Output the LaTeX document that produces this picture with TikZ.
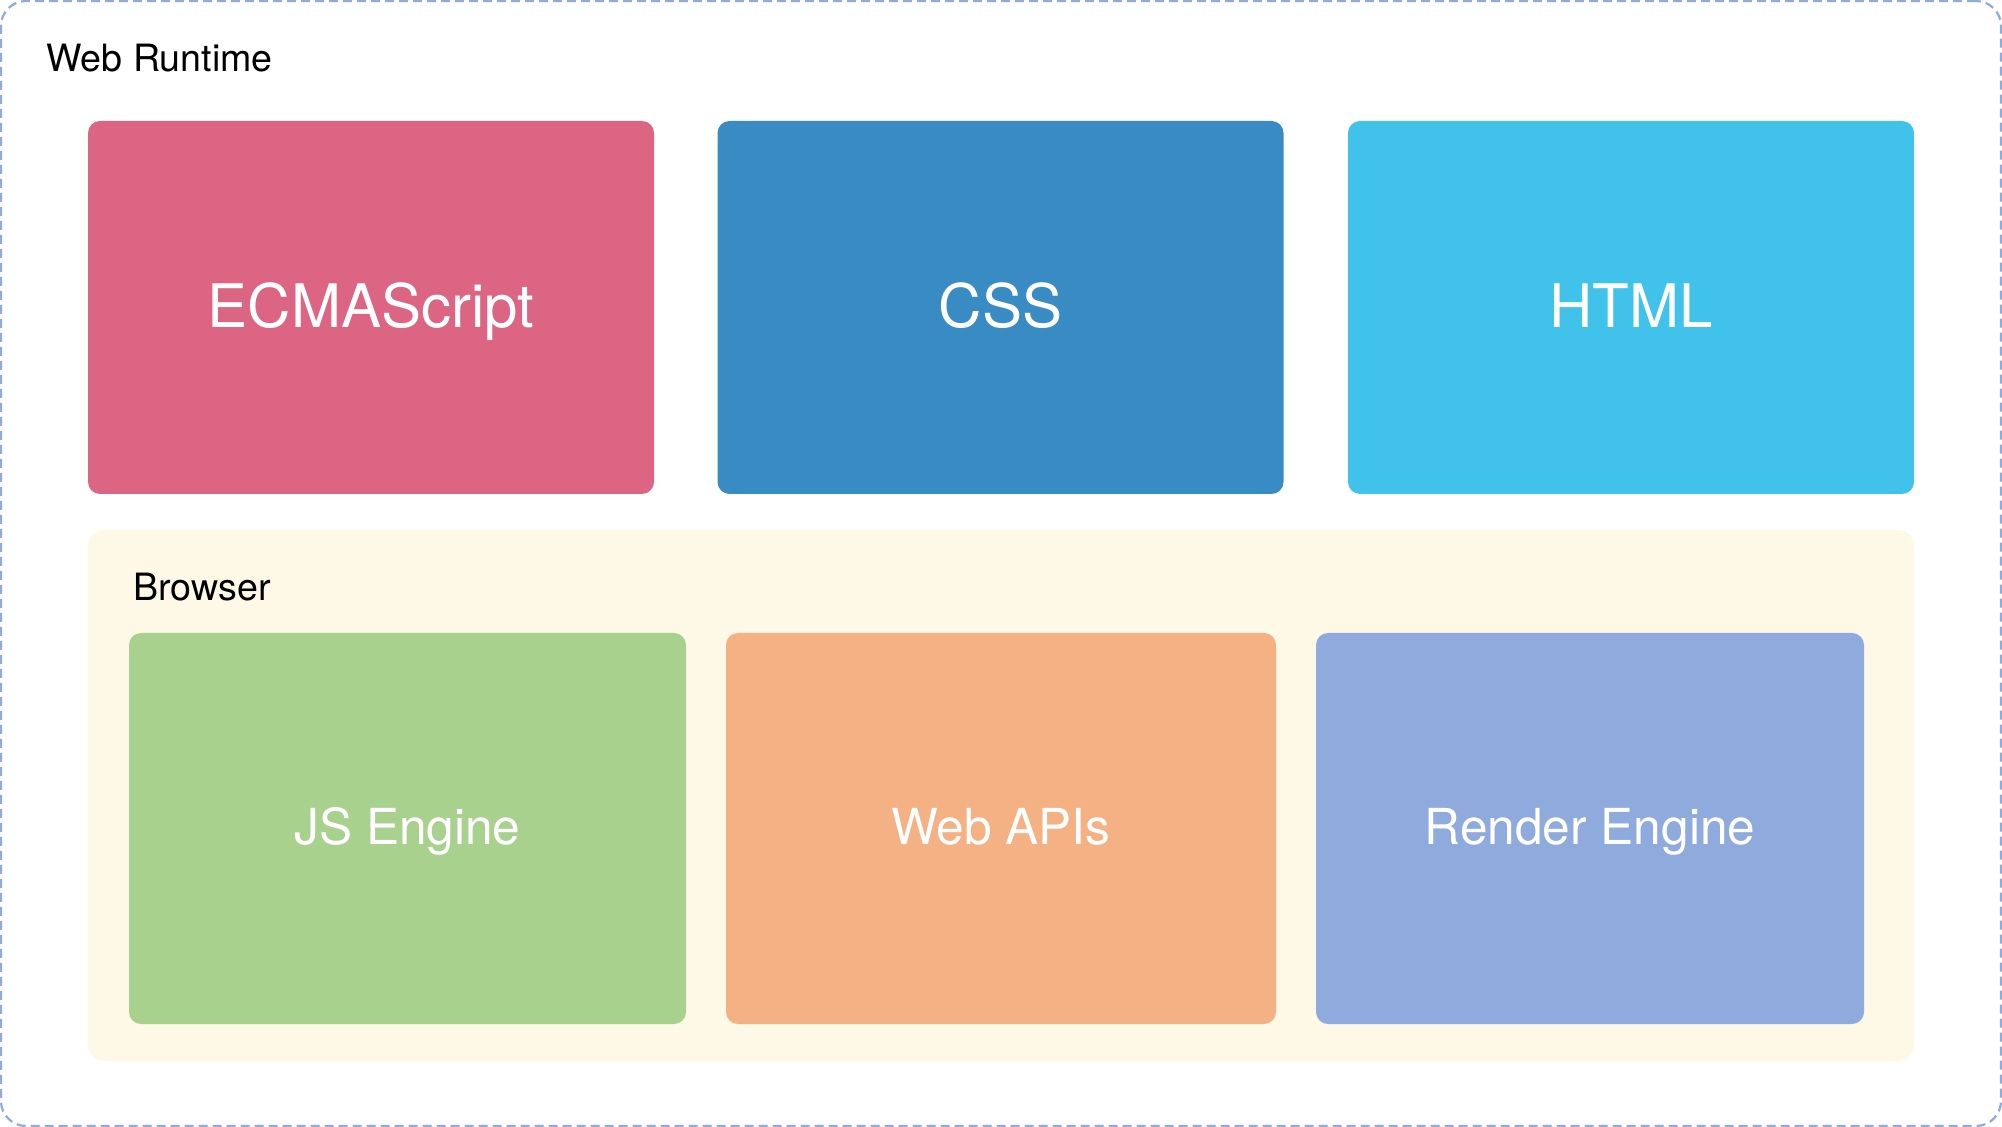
\documentclass[tikz,border=0pt]{standalone}
\usepackage{fontspec}
\setmainfont{TeX Gyre Heros}
\definecolor{ecmared}{HTML}{DC6584}
\definecolor{cssblue}{HTML}{398CC3}
\definecolor{htmlcyan}{HTML}{40C2EA}
\definecolor{browserbg}{HTML}{FEF8E7}
\definecolor{jsgreen}{HTML}{A9D18E}
\definecolor{apiorange}{HTML}{F4B183}
\definecolor{renderblue}{HTML}{8FAADC}

\begin{document}
\begin{tikzpicture}[x=0.5pt,y=-0.5pt,
    langbox/.style={fill=#1,rounded corners=6pt,inner sep=0pt,text=white,
      minimum width=283pt,minimum height=186.5pt,
      font=\fontsize{30}{36}\selectfont,text height=23.5pt,text depth=3.5pt},
    enginebox/.style={fill=#1,rounded corners=6pt,inner sep=0pt,text=white,
      minimum height=195.5pt,
      font=\fontsize{24.8}{30}\selectfont,text height=19.25pt,text depth=3.75pt},
    title/.style={anchor=base west,inner sep=0pt,font=\fontsize{18.8}{22}\selectfont}]
    \useasboundingbox (0,0) rectangle (2002,1127);
    % outer frame
    \node[draw=renderblue,line width=1.1pt,dash pattern=on 4.5pt off 2.5pt,
      rounded corners=12.5pt,minimum width=1000pt,minimum height=562.5pt,inner sep=0pt]
      (runtime) at (1001,563.5) {};
    \node[title] (runtimetitle) at (46,72) {Web Runtime};
    % languages
    \node[langbox=ecmared] (ecma) at (371,307.5) {ECMAScript};
    \node[langbox=cssblue] (css) at (1000.5,307.5) {CSS};
    \node[langbox=htmlcyan] (html) at (1631,307.5) {HTML};
    % browser
    \node[fill=browserbg,rounded corners=8pt,inner sep=0pt,
      minimum width=913pt,minimum height=265.5pt] (browser) at (1001,795.5) {};
    \node[title] (browsertitle) at (133,601) {Browser};
    \node[enginebox=jsgreen,minimum width=278.5pt] (js) at (407.5,828.5) {JS Engine};
    \node[enginebox=apiorange,minimum width=275pt] (apis) at (1001,828.5) {Web APIs};
    \node[enginebox=renderblue,minimum width=274pt] (render) at (1590,828.5) {Render Engine};
\end{tikzpicture}
\end{document}
